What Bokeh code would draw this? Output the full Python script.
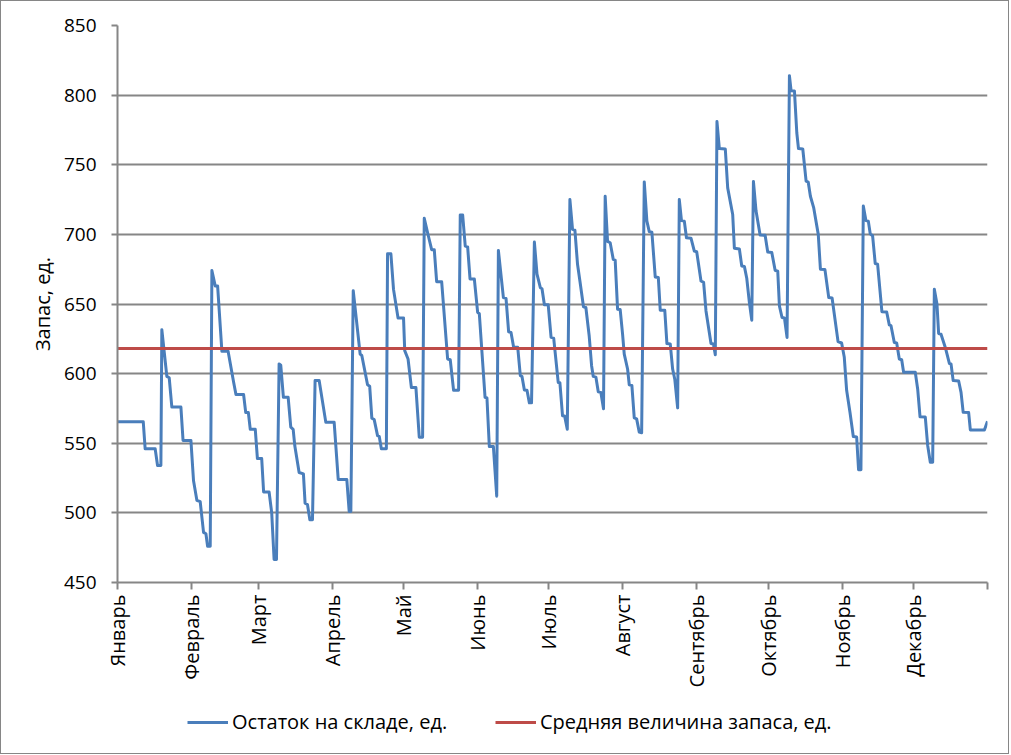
import math
from bokeh.plotting import figure
from bokeh.layouts import column
from bokeh.models import Range1d, FixedTicker, Legend, LegendItem
from bokeh.embed import file_html
from bokeh.resources import INLINE

# ---- data (day of year, stock level) ----
days = [0, 10.8, 11.6, 15.8, 16.8, 18.2, 18.6, 20.7, 21.7, 22.8, 26.6, 27.5, 30.8, 31.9, 33.3, 34.7,
        36.1, 37.1, 37.8, 38.9, 39.6, 41.0, 42.0, 43.8, 46.4, 48.7, 49.7, 52.9, 53.8, 54.9, 55.7, 57.8,
        58.7, 60.5, 61.3, 63.6, 64.7, 65.7, 66.7, 67.8, 68.5, 69.6, 71.6, 72.7, 73.7, 74.4, 76.2, 78.0,
        78.7, 79.7, 80.7, 81.8, 82.9, 84.6, 87.4, 90.9, 92.6, 96.2, 97.2, 97.9, 98.9, 101.8, 102.5, 104.9,
        105.8, 106.7, 107.7, 109.1, 109.8, 110.7, 112.8, 113.3, 114.7, 115.8, 117.7, 120.0, 120.5, 121.9,
        123.3, 125.2, 126.6, 128.0, 128.7, 130.4, 131.8, 132.9, 133.9, 136.0, 138.5, 139.6, 141.0, 143.1,
        143.8, 144.8, 145.9, 146.9, 147.9, 149.7, 151.1, 151.8, 154.2, 155.0, 156.0, 157.7, 159.1, 159.8,
        161.9, 163.0, 164.1, 165.1, 166.2, 167.9, 169.0, 169.7, 170.7, 171.8, 172.8, 173.7, 174.9, 176.0,
        177.4, 178.1, 179.1, 180.7, 181.9, 183.0, 184.9, 185.6, 186.7, 187.6, 188.7,
        189.8, 190.9, 191.9, 193.0, 194.0, 195.5, 196.5, 197.9, 198.9, 199.6, 200.7, 201.7, 202.8, 203.9,
        204.6, 205.6, 206.7, 208.0, 208.8, 209.8, 210.9, 211.9, 212.6, 214.0, 214.7, 215.8, 216.8, 217.8,
        218.9, 219.9, 221.0, 222.1, 223.1, 224.2, 225.6, 226.9, 227.7, 229.6, 230.5, 231.9, 232.9, 233.8,
        235.0, 235.7, 236.6, 237.8, 238.7, 240.6, 242.0, 243.0, 244.8, 245.9, 246.9, 249.0, 250.0, 250.8,
        251.5, 252.5, 255.0, 256.0, 258.1, 258.8, 260.9, 261.9, 263.0, 264.0, 265.1, 266.1, 266.8, 267.9,
        269.6, 271.7, 272.8, 274.5, 275.9, 277.0, 277.7, 278.8, 279.8, 280.9, 281.9, 282.6, 284.0, 285.0,
        285.7, 287.5, 288.9, 289.8, 290.7, 292.1, 294.0, 294.9, 296.8, 298.4, 299.8, 302.3, 303.8, 304.9,
        305.9, 307.3, 308.7, 310.1, 310.9, 311.9, 312.9, 314.0, 315.0, 315.8, 316.8, 317.9, 318.9, 320.7,
        322.7, 323.8, 324.5, 325.9, 326.9, 328.0, 329.0, 329.8, 334.7, 335.7, 336.7, 338.9, 339.9, 341.0,
        342.0, 342.7, 343.8, 344.5, 345.5, 347.3, 349.0, 349.7, 350.6, 352.9, 353.9, 354.8, 357.1, 357.8,
        363.7, 365.0]

stock = [565.5, 565.5, 546, 546, 534, 534, 631.5, 598, 597, 576, 576, 552, 552, 523, 509, 508,
         486, 485, 476, 476, 674, 663, 663, 616, 616, 594, 585, 585, 572, 572, 560, 560,
         539, 539, 515, 515, 500, 466.5, 466.5, 607, 606, 583, 583, 561.5, 560, 548, 529, 528,
         507, 506, 495, 495, 595, 595, 565, 565, 524, 524, 501, 501, 659.5, 614, 613, 592,
         591, 568, 567, 555.5, 555, 546, 546, 686, 686, 660.5, 640, 640, 616.5, 610.5,
         590, 590, 554.3, 554.3, 711.5, 699, 689, 689, 666, 666, 610.5, 610, 588, 588,
         714, 714, 691.6, 691, 668, 668, 644, 643, 583, 582.5, 547.6, 547.6, 512, 688.5,
         654.6, 654, 630, 629.5, 619, 619, 598.5, 598, 588.3, 588, 579, 579, 694.5, 671.5,
         661.7, 661, 649.4, 649.4, 626, 625.5, 593.7, 593.5, 569.8, 569.5, 560,
         725, 703.6, 703, 678.5, 666.5, 648, 647.5, 627, 605.7, 598, 597.5, 587, 586.5, 574.7,
         727.4, 695, 694, 682, 681.5, 646.3, 646, 628.4, 614, 603.3, 592, 591.5, 568.2, 567.5,
         558, 557.5, 737.7, 709.5, 702, 701.5, 669.4, 669, 645.6, 645.5, 621.6, 621.3, 603.3, 596,
         575.4, 725, 710, 709.5, 697.6, 697.3, 688, 687.5, 666.5, 665.5, 645, 621.6, 621.3, 613.5,
         781, 761.6, 761.3, 733.4, 714.3, 690, 689.5, 677.3, 677, 668.5, 651, 638.4, 738, 716.7,
         699.5, 699.3, 687.3, 687, 674.2, 673.5, 648.6, 640.3, 640, 626, 814, 803.2, 803, 772.8,
         761.6, 761.3, 738.2, 737.5, 727.4, 719, 700, 675, 674.7, 654.6, 654.3, 623, 622, 612,
         588, 572.2, 554.8, 554.5, 531, 531, 720.3, 710, 709.5, 700.4, 699, 679, 678.5, 644.5,
         644.3, 635, 634.5, 622.3, 622, 610.5, 610, 601, 601, 589, 569, 568.8, 548.4, 536.4,
         536.4, 660.6, 650, 628.8, 628.3, 618.8, 607.3, 607, 595, 594.7, 586.5, 572.2, 572, 559.6,
         559.6, 565.8]

mean_stock = 618

month_start_days = [0, 31, 59, 90, 120, 151, 181, 212, 243, 273, 304, 334, 365]
month_labels = ["Январь", "Февраль", "Март", "Апрель", "Май", "Июнь", "Июль", "Август",
                "Сентябрь", "Октябрь", "Ноябрь", "Декабрь", ""]
y_ticks = [450, 500, 550, 600, 650, 700, 750, 800, 850]

series_name = "Остаток на складе, ед."
mean_name = "Средняя величина запаса, ед."
y_title = "Запас, ед."

FONT = "Open Sans"
GRID = "#868686"
BLUE = "#4a7ebb"
RED = "#be4b48"

p = figure(width=1007, height=700, output_backend="svg", toolbar_location=None,
           x_range=Range1d(0, 365), y_range=Range1d(450, 850),
           min_border_left=116, min_border_right=21, min_border_top=24, min_border_bottom=119)
p.outline_line_color = None
p.background_fill_color = "white"
p.border_fill_color = "white"

line_series = p.line(days, stock, line_color=BLUE, line_width=3, line_join="round")
line_mean = p.line([0, 365], [mean_stock, mean_stock], line_color=RED, line_width=3)

# axes
xa = p.xaxis[0]
xa.ticker = FixedTicker(ticks=month_start_days)
xa.major_label_overrides = {d: lab for d, lab in zip(month_start_days, month_labels)}
xa.major_label_orientation = math.pi / 2
xa.axis_line_color = GRID
xa.axis_line_width = 2
xa.major_tick_line_color = GRID
xa.major_tick_line_width = 2
xa.major_tick_in = 0
xa.major_tick_out = 7
xa.minor_tick_line_color = None
xa.major_label_text_font = FONT
xa.major_label_text_font_size = "20px"
xa.major_label_text_color = "black"
xa.major_label_standoff = 5

ya = p.yaxis[0]
ya.ticker = FixedTicker(ticks=y_ticks)
ya.axis_line_color = GRID
ya.axis_line_width = 2
ya.major_tick_line_color = GRID
ya.major_tick_line_width = 2
ya.major_tick_in = 0
ya.major_tick_out = 6
ya.minor_tick_line_color = None
ya.major_label_text_font = FONT
ya.major_label_text_font_size = "19px"
ya.major_label_text_color = "black"
ya.major_label_standoff = 15
ya.axis_label = y_title
ya.axis_label_text_font = FONT
ya.axis_label_text_font_size = "20px"
ya.axis_label_text_font_style = "normal"
ya.axis_label_text_color = "black"
ya.axis_label_standoff = 5

p.xgrid.grid_line_color = None
p.ygrid.grid_line_color = GRID
p.ygrid.grid_line_width = 2
p.ygrid.ticker = FixedTicker(ticks=y_ticks)

# ---- legend strip (a second, axis-less figure so the legend is not clipped) ----
leg = figure(width=1007, height=52, output_backend="svg", toolbar_location=None,
             x_range=Range1d(0, 1), y_range=Range1d(0, 1),
             x_axis_type=None, y_axis_type=None,
             min_border_left=116, min_border_right=21, min_border_top=0, min_border_bottom=0)
leg.outline_line_color = None
leg.xgrid.visible = False
leg.ygrid.visible = False
leg.border_fill_color = "white"
# legend keys: same series, kept outside this strip's visible range
key_series = leg.line(days, stock, line_color=BLUE, line_width=3)
key_mean = leg.line([0, 365], [mean_stock, mean_stock], line_color=RED, line_width=3)


def make_legend(label, renderer, x):
    return Legend(items=[LegendItem(label=label, renderers=[renderer])], location=(x, 18),
                  orientation="horizontal", padding=0, margin=0, spacing=0,
                  border_line_color=None, background_fill_alpha=0,
                  glyph_width=41, glyph_height=26, label_height=26, label_standoff=4,
                  label_text_font=FONT, label_text_font_size="20px", label_text_color="black")


leg.add_layout(make_legend(series_name, key_series, 70), "center")
leg.add_layout(make_legend(mean_name, key_mean, 378), "center")

layout = column(p, leg, spacing=0)
layout.styles = {"border": "1px solid #868686"}
open("out.html", "w").write(file_html(layout, INLINE))
